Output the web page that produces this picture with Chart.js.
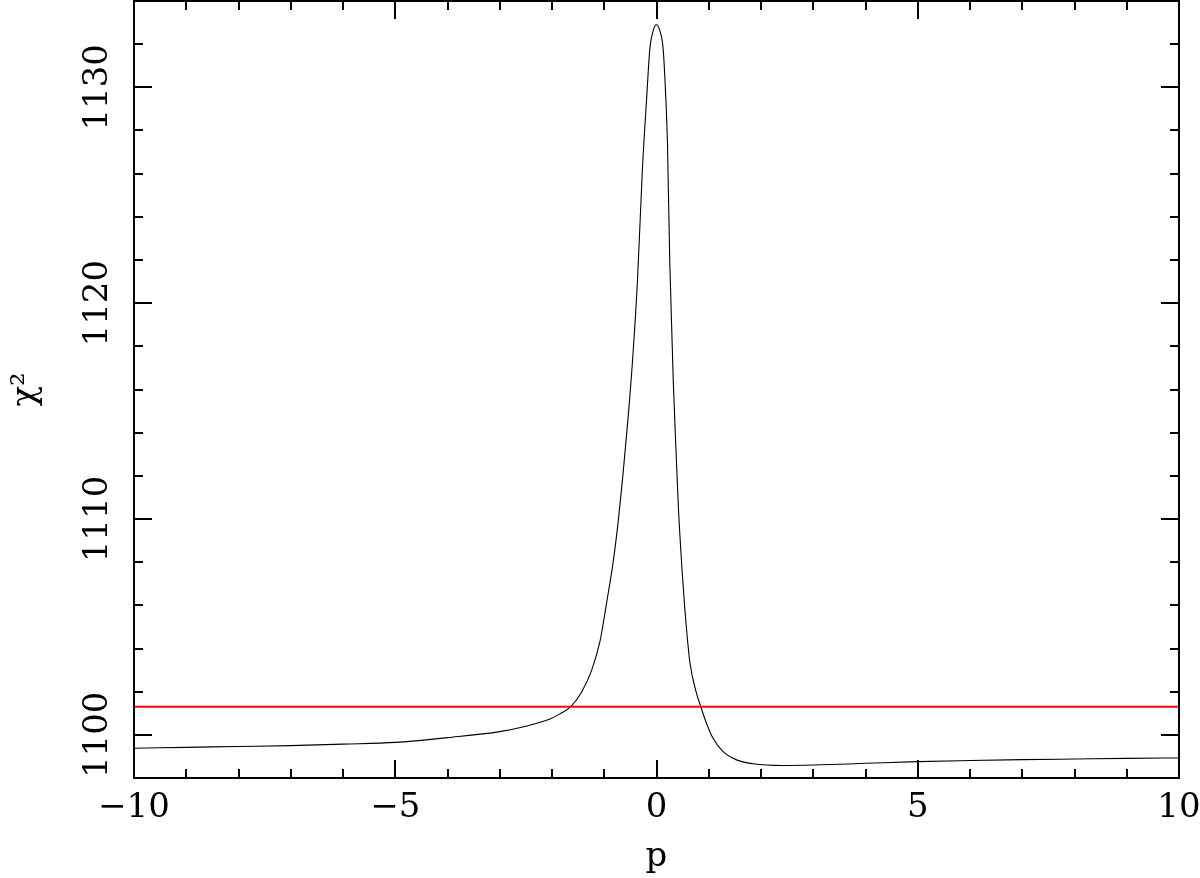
<!DOCTYPE html>
<html>
<head>
<meta charset="utf-8">
<script src="https://cdn.jsdelivr.net/npm/chart.js@4.4.1/dist/chart.umd.min.js"></script>
<style>
    html, body { margin: 0; padding: 0; background: #fff; }
    #wrap { width: 1200px; height: 878px; }
</style>
</head>
<body>
<div id="wrap"><canvas id="chi-chart"></canvas></div>
<script>
// Scan of chi^2 against p
const P_VALUES = [
    -10, -9, -8, -7, -6, -5, -4, -3, -2.5, -2.04, -1.85, -1.64, -1.43, -1.24, -1.08,
    -0.956, -0.83, -0.73, -0.64, -0.54, -0.46, -0.363, -0.27, -0.19, -0.128, -0.06, 0,
    0.06, 0.128, 0.178, 0.21, 0.254, 0.32, 0.37, 0.42, 0.49, 0.54, 0.637, 0.765, 0.847,
    0.956, 1.08, 1.27, 1.53, 1.85, 2.42, 3, 4, 5, 6, 7, 8, 9, 10
];
const CHI2_VALUES = [
    1099.38, 1099.42, 1099.46, 1099.5, 1099.57, 1099.65, 1099.87, 1100.15, 1100.4, 1100.73, 1100.97, 1101.31, 1102.0, 1103.0, 1104.35,
    1106.1, 1108.0, 1109.95, 1112.1, 1114.8, 1117.3, 1121.1, 1126.2, 1129.44, 1131.76, 1132.65, 1132.9,
    1132.65, 1131.76, 1129.5, 1127.4, 1121.9, 1116.46, 1113.37, 1110.5, 1107.6, 1105.9, 1103.4, 1101.93, 1101.31,
    1100.54, 1099.85, 1099.23, 1098.84, 1098.66, 1098.58, 1098.6, 1098.68, 1098.76, 1098.81, 1098.85, 1098.88, 1098.91, 1098.93
];
const THRESHOLD_CHI2 = 1101.3;

// Axis setup
const X_MIN = -10, X_MAX = 10;
const Y_MIN = 1098, Y_MAX = 1134;
const X_TICKS = [-10, -5, 0, 5, 10];
const Y_TICK_LABELS = [1100, 1110, 1120, 1130];

const FONT = "'DejaVu Serif', 'Liberation Serif', serif";
const FONT_SIZE = 34;

// Frame with inward ticks on all four sides, plus rotated y labels
const frameTicks = {
    id: 'frameTicks',
    afterDatasetsDraw(chart) {
        const { ctx, chartArea: a, scales: { x, y } } = chart;
        ctx.save();
        ctx.strokeStyle = '#000';
        ctx.lineWidth = 2;
        ctx.strokeRect(a.left, a.top, a.right - a.left, a.bottom - a.top);

        ctx.beginPath();
        for (let v = X_MIN; v <= X_MAX; v += 1) {
            const px = Math.round(x.getPixelForValue(v));
            const len = v % 5 === 0 ? 18 : 9;
            ctx.moveTo(px, a.bottom);
            ctx.lineTo(px, a.bottom - len);
            ctx.moveTo(px, a.top);
            ctx.lineTo(px, a.top + len);
        }
        for (let v = Y_MIN; v <= Y_MAX; v += 2) {
            const py = Math.round(y.getPixelForValue(v));
            const len = v % 10 === 0 ? 18 : 9;
            ctx.moveTo(a.left, py);
            ctx.lineTo(a.left + len, py);
            ctx.moveTo(a.right, py);
            ctx.lineTo(a.right - len, py);
        }
        ctx.stroke();

        ctx.fillStyle = '#000';
        ctx.font = `${FONT_SIZE}px ${FONT}`;
        ctx.textAlign = 'center';
        ctx.textBaseline = 'middle';
        for (const v of Y_TICK_LABELS) {
            ctx.save();
            ctx.translate(98, y.getPixelForValue(v));
            ctx.rotate(-Math.PI / 2);
            ctx.fillText(String(v), 0, 0);
            ctx.restore();
        }
        ctx.restore();
    }
};

function buildChart() {
    const ctx = document.getElementById('chi-chart').getContext('2d');
    const curve = P_VALUES.map((p, i) => ({ x: p, y: CHI2_VALUES[i] }));
    const threshold = [{ x: X_MIN, y: THRESHOLD_CHI2 }, { x: X_MAX, y: THRESHOLD_CHI2 }];

    return new Chart(ctx, {
        type: 'line',
        data: {
            datasets: [{
                data: threshold,
                borderColor: '#ff0000',
                borderWidth: 2,
                pointRadius: 0,
            }, {
                data: curve,
                borderColor: '#000000',
                borderWidth: 1.1,
                pointRadius: 0,
                cubicInterpolationMode: 'monotone',
            }]
        },
        options: {
            responsive: true,
            maintainAspectRatio: false,
            animation: false,
            events: [],
            layout: {
                padding: { top: 1, right: 21, bottom: 0, left: 0 }
            },
            plugins: {
                legend: { display: false },
                tooltip: { enabled: false }
            },
            scales: {
                x: {
                    type: 'linear',
                    min: X_MIN,
                    max: X_MAX,
                    border: { display: false },
                    grid: { display: false, drawTicks: false },
                    afterBuildTicks: (scale) => {
                        scale.ticks = X_TICKS.map(v => ({ value: v }));
                    },
                    afterFit: (scale) => {
                        scale.height = 100;
                        scale.paddingLeft = 0;
                        scale.paddingRight = 0;
                    },
                    ticks: {
                        padding: 10,
                        color: '#000',
                        font: { family: FONT, size: FONT_SIZE },
                        maxRotation: 0,
                        callback: (v) => String(v).replace('-', '\u2212'),
                    },
                    title: {
                        display: true,
                        text: 'p',
                        color: '#000',
                        font: { family: FONT, size: FONT_SIZE },
                        padding: { top: 0, bottom: 0 },
                    }
                },
                y: {
                    min: Y_MIN,
                    max: Y_MAX,
                    border: { display: false },
                    grid: { display: false, drawTicks: false },
                    ticks: { display: false },
                    afterFit: (scale) => { scale.width = 134; },
                    title: {
                        display: true,
                        text: '\u03c7\u00b2',
                        color: '#000',
                        font: { family: FONT, size: FONT_SIZE },
                        padding: { top: 6, bottom: 0 },
                    }
                }
            }
        },
        plugins: [frameTicks]
    });
}

buildChart();
</script>
</body>
</html>
